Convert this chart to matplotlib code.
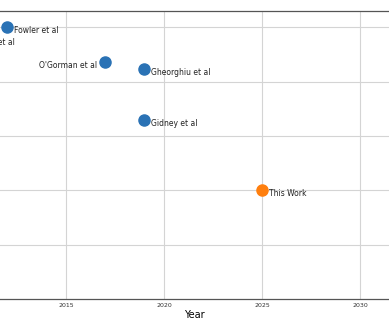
import matplotlib
matplotlib.use("Agg")
import matplotlib.pyplot as plt

# physical qubit estimates (RSA-2048)
names = ["Jones et al", "Fowler et al", "O'Gorman et al", "Gheorghiu et al", "Gidney et al", "This Work"]
years = [2010, 2012, 2017, 2019, 2019, 2025]
qubits = [6.2e8, 1e9, 2.3e8, 1.7e8, 2e7, 1e6]
colors = ["#2a72b5"] * 5 + ["#ff7f0e"]
sides = ["right", "right", "left", "right", "right", "right"]

fig = plt.figure(figsize=(3.89, 3.25), dpi=100)
ax = fig.add_axes([0, 0.08, 1, 0.886])

for n, x, y, c, s in zip(names, years, qubits, colors, sides):
    ax.plot(x, y, "o", color=c, ms=8, clip_on=False, zorder=3)
    if s == "right":
        ax.annotate(n, (x, y), xytext=(5, -2.5), textcoords="offset points",
                    ha="left", va="center", fontsize=5.5, color="#222222",
                    annotation_clip=False)
    else:
        ax.annotate(n, (x, y), xytext=(-5.5, -2.5), textcoords="offset points",
                    ha="right", va="center", fontsize=5.5, color="#222222",
                    annotation_clip=False)

ax.set_yscale("log")
ax.set_xlim(2011.63, 2031.48)
ax.set_ylim(1e4, 2e9)
ax.set_xticks([2015, 2020, 2025, 2030])
ax.set_yticks([1e5, 1e6, 1e7, 1e8, 1e9])
ax.yaxis.set_minor_locator(matplotlib.ticker.NullLocator())
ax.tick_params(axis="y", left=False, labelleft=False)
ax.tick_params(axis="x", length=0, labelsize=4.5, pad=3, labelcolor="#333333")
ax.grid(True, color="#d4d4d4", lw=0.8)
ax.set_axisbelow(True)
for s in ["left", "right"]:
    ax.spines[s].set_visible(False)
for s in ["top", "bottom"]:
    ax.spines[s].set_color("#555555")
    ax.spines[s].set_linewidth(0.9)
ax.set_xlabel("Year", fontsize=7, labelpad=1)

fig.savefig("out.png", dpi=100)
